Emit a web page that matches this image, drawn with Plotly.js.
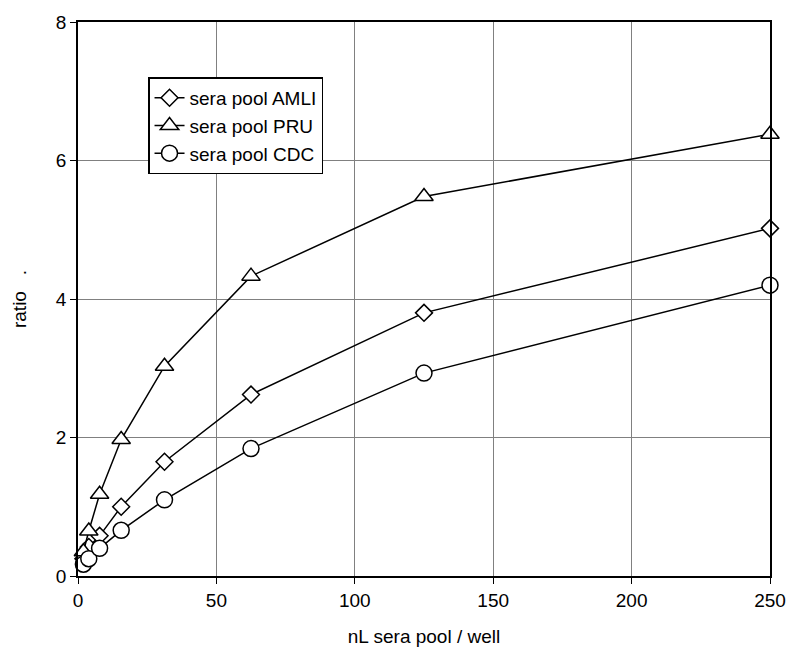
<!DOCTYPE html>
<html>
<head>
<script src="https://cdn.plot.ly/plotly-3.0.1.min.js"></script>
<style>body{margin:0;background:#fff}</style>
</head>
<body>
<div id="chart" style="width:794px;height:671px"></div>
<script>
var dose = [1.95, 3.9, 7.8, 15.6, 31.25, 62.5, 125, 250];
var amli = [0.25, 0.42, 0.58, 1.0, 1.65, 2.62, 3.8, 5.02];
var pru = [0.35, 0.65, 1.18, 1.97, 3.03, 4.33, 5.48, 6.38];
var cdc = [0.17, 0.25, 0.4, 0.66, 1.1, 1.84, 2.93, 4.2];

function series(name, y, sym, size) {
  return {
    x: dose, y: y, name: name, type: 'scatter', mode: 'lines+markers', cliponaxis: false,
    line: {color: '#000', width: 1.5},
    marker: {symbol: sym, size: size, color: '#fff', line: {color: '#000', width: 1.5}}
  };
}

var data = [
  series('sera pool AMLI', amli, 'diamond', 13),
  series('sera pool PRU', pru, 'triangle-up', 16),
  series('sera pool CDC', cdc, 'circle', 16)
];

var layout = {
  width: 794, height: 671,
  margin: {l: 78, r: 24, t: 22, b: 95},
  paper_bgcolor: '#fff', plot_bgcolor: '#fff',
  font: {family: 'Liberation Sans, Arial, sans-serif', size: 19, color: '#000'},
  showlegend: true,
  legend: {x: 0.1012, y: 0.9, xanchor: 'left', yanchor: 'top', tracegroupgap: 0,
    bordercolor: '#000', borderwidth: 1.5, bgcolor: '#fff', font: {size: 19}},
  xaxis: {range: [0, 250], dtick: 50, showgrid: true, gridcolor: '#808080', gridwidth: 1,
    zeroline: false, showline: true, linecolor: '#000', linewidth: 1.5, mirror: true,
    ticks: 'outside', ticklen: 6, tickcolor: '#000', tickfont: {size: 19},
    title: {text: 'nL sera pool / well', font: {size: 19}, standoff: 20}},
  yaxis: {range: [0, 8], dtick: 2, showgrid: true, gridcolor: '#808080', gridwidth: 1,
    zeroline: false, showline: true, linecolor: '#000', linewidth: 1.5, mirror: true,
    ticks: 'outside', ticklen: 6, tickcolor: '#000', tickfont: {size: 19},
    title: {text: 'ratio   .', font: {size: 19}, standoff: 24}}
};

Plotly.newPlot('chart', data, layout, {displayModeBar: false});
</script>
</body>
</html>
